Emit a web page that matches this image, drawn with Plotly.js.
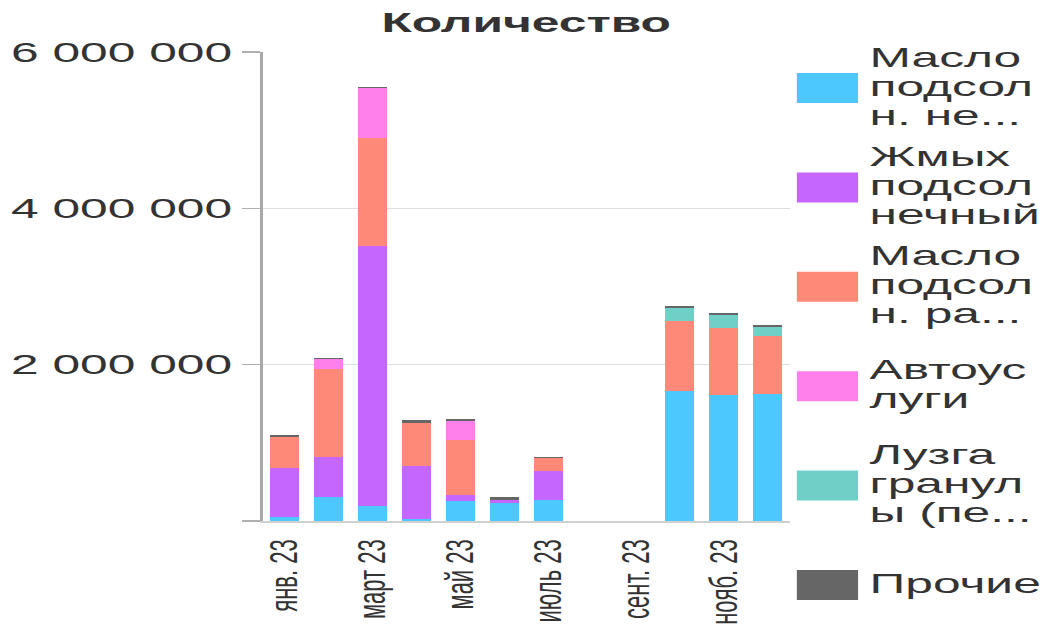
<!DOCTYPE html>
<html>
<head>
<meta charset="utf-8">
<script src="https://cdn.plot.ly/plotly-3.0.1.min.js"></script>
<style>
  html, body { margin: 0; padding: 0; background: #fff; }
  #wrap { width: 1040px; height: 629px; overflow: hidden; position: relative; }
  #chart { width: 586px; height: 629px; transform: scaleX(1.7747); transform-origin: 0 0; }
</style>
</head>
<body>
<div id="wrap"><div id="chart"></div></div>
<script>
// ---- data ----
const months = ['янв. 23','февр. 23','март 23','апр. 23','май 23','июнь 23','июль 23','авг. 23','сент. 23','окт. 23','нояб. 23','дек. 23'];
const labelMonths = ['янв. 23','март 23','май 23','июль 23','сент. 23','нояб. 23'];
const oilUnrefined = [55000, 310000, 190000, 25000, 250000, 225000, 270000, null, null, 1663000, 1610000, 1625000];
const meal         = [625000, 510000, 3330000, 685000, 80000, 50000, 370000, null, null, 0, 0, 0];
const oilRefined   = [400000, 1130000, 1380000, 550000, 710000, 0, 160000, null, null, 900000, 860000, 745000];
const autoServices = [0, 120000, 635000, 0, 240000, 0, 0, null, null, 0, 0, 0];
const husk         = [0, 0, 0, 0, 0, 0, 0, null, null, 160000, 160000, 115000];
const other        = [20000, 15000, 20000, 37000, 20000, 35000, 20000, null, null, 25000, 27000, 25000];
const seriesNames = ['Масло подсолн. нерафинированное','Жмых подсолнечный','Масло подсолн. рафинированное','Автоуслуги','Лузга гранулы (пеллеты)','Прочие'];
const legendLines = [
  ['Масло','подсол','н. не...'],
  ['Жмых','подсол','нечный'],
  ['Масло','подсол','н. ра...'],
  ['Автоус','луги'],
  ['Лузга','гранул','ы (пе...'],
  ['Прочие']
];
const colors = ['#4DC8FF','#C566FF','#FF8978','#FF80EA','#70CFC6','#666666'];
const yTickVals = [0, 2000000, 4000000, 6000000];
const yTickText = ['', '2 000 000', '4 000 000', '6 000 000'];

const allSeries = [oilUnrefined, meal, oilRefined, autoServices, husk, other];

const traces = allSeries.map((vals, i) => ({
  type: 'bar',
  name: seriesNames[i],
  x: months,
  y: vals,
  marker: { color: colors[i], line: { width: 0 } },
  showlegend: false,
  hoverinfo: 'none'
}));

// ---- manual legend (layout geometry in inner px) ----
const plotL = 148, plotR = 445, plotT = 52, plotB = 521;
const pw = plotR - plotL, ph = plotB - plotT;
const px = v => (v - plotL) / pw;
const py = v => (plotB - v) / ph;
const shapes = [];
const annotations = [];
legendLines.forEach((lines, i) => {
  const yc = 88 + i * 99.4;
  shapes.push({
    type: 'rect', xref: 'paper', yref: 'paper',
    x0: px(449), x1: px(483.5), y0: py(yc + 15), y1: py(yc - 15),
    fillcolor: colors[i], line: { width: 0 }
  });
  const n = lines.length;
  lines.forEach((t, j) => {
    const baseline = yc + 8 + (j - (n - 1) / 2) * 29;
    annotations.push({
      xref: 'paper', yref: 'paper', x: px(487.5), y: py(baseline - 10),
      xanchor: 'left', yanchor: 'middle', showarrow: false, text: t,
      font: { family: 'Arial, "Liberation Sans", sans-serif', size: 28, color: '#333333' }
    });
  });
});

const layout = {
  width: 586, height: 629,
  margin: { l: plotL, r: 586 - plotR, t: plotT, b: 629 - plotB, pad: 0 },
  paper_bgcolor: '#ffffff', plot_bgcolor: '#ffffff',
  barmode: 'stack', bargap: 0.34,
  title: {
    text: 'Количество', x: 0.5, xref: 'paper', xanchor: 'center',
    y: 1 - 22 / 629, yanchor: 'middle',
    font: { family: 'Arial, "Liberation Sans", sans-serif', size: 28, color: '#333333', weight: 'bold' }
  },
  font: { family: 'Arial, "Liberation Sans", sans-serif', size: 28, color: '#333333' },
  xaxis: {
    type: 'category', range: [-0.5, 11.5], fixedrange: true,
    tickmode: 'array', tickvals: labelMonths, ticktext: labelMonths,
    tickangle: -90, ticks: '', ticklabelstandoff: 8,
    tickfont: { family: '"Liberation Sans Narrow", "Arial Narrow", Arial, sans-serif', size: 22, color: '#333333' },
    showgrid: false, zeroline: false,
    showline: true, linecolor: '#d0d0d0', linewidth: 1.5
  },
  xaxis2: {
    overlaying: 'x', anchor: 'y', side: 'bottom', type: 'linear', range: [-0.5, 11.5], fixedrange: true,
    tickmode: 'array', tickvals: [1, 3, 5, 7, 9, 11],
    ticks: 'outside', ticklen: 9, tickwidth: 1.2, tickcolor: '#b8b8b8',
    showticklabels: false, showgrid: false, zeroline: false, showline: false
  },
  yaxis: {
    range: [0, 6000000], fixedrange: true,
    tickmode: 'array', tickvals: yTickVals, ticktext: yTickText,
    ticks: 'outside', ticklen: 10, tickwidth: 1.2, tickcolor: '#b0b0b0',
    tickfont: { family: 'Arial, "Liberation Sans", sans-serif', size: 28, color: '#333333' },
    showgrid: true, gridcolor: '#dedede', gridwidth: 1.2,
    zeroline: false, showline: true, linecolor: '#a8a8a8', linewidth: 1.6
  },
  shapes: shapes,
  annotations: annotations,
  showlegend: false
};

Plotly.newPlot('chart', traces, layout, { staticPlot: true, displayModeBar: false });
</script>
</body>
</html>
